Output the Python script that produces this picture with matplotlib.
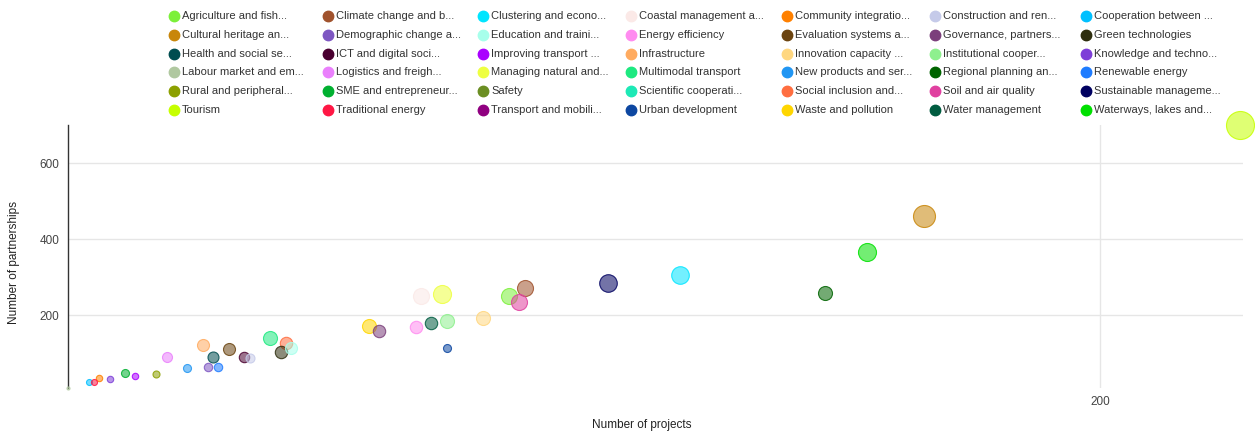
import matplotlib
matplotlib.use("Agg")
import matplotlib.pyplot as plt
import matplotlib.colors as mcolors
from matplotlib.lines import Line2D

plt.rcParams['font.family'] = ['Liberation Sans', 'DejaVu Sans']

# legend categories (row-major, 7 per row) and their colours
categories = [
    "Agriculture and fish...", "Climate change and b...", "Clustering and econo...",
    "Coastal management a...", "Community integratio...", "Construction and ren...",
    "Cooperation between ...",
    "Cultural heritage an...", "Demographic change a...", "Education and traini...",
    "Energy efficiency", "Evaluation systems a...", "Governance, partners...",
    "Green technologies",
    "Health and social se...", "ICT and digital soci...", "Improving transport ...",
    "Infrastructure", "Innovation capacity ...", "Institutional cooper...",
    "Knowledge and techno...",
    "Labour market and em...", "Logistics and freigh...", "Managing natural and...",
    "Multimodal transport", "New products and ser...", "Regional planning an...",
    "Renewable energy",
    "Rural and peripheral...", "SME and entrepreneur...", "Safety",
    "Scientific cooperati...", "Social inclusion and...", "Soil and air quality",
    "Sustainable manageme...",
    "Tourism", "Traditional energy", "Transport and mobili...",
    "Urban development", "Waste and pollution", "Water management",
    "Waterways, lakes and...",
]
colors = [
    "#7cf03a", "#a0522d", "#00e5ff", "#fbe9e7", "#ff8000", "#c5cae9", "#00c0ff",
    "#c8860a", "#7e57c2", "#a7ffeb", "#ff8cf0", "#6b4410", "#7b3f7b", "#2e2e0e",
    "#004d50", "#4a0030", "#aa00ff", "#ffab60", "#ffd780", "#8ef08e", "#7e3fd8",
    "#b0c8a0", "#ea80fc", "#eeff41", "#1de980", "#2196f3", "#006400", "#1e7cff",
    "#8ca000", "#00b030", "#6b8e23", "#1de9b6", "#ff6e40", "#e040a0", "#000060",
    "#c6ff00", "#ff1744", "#900080", "#0d47a1", "#ffd600", "#005c40", "#00e000",
]

# bubbles
point_names = [
    "Labour market and em...", "Cooperation between ...", "Traditional energy",
    "Community integratio...", "Knowledge and techno...", "SME and entrepreneur...",
    "Improving transport ...", "Rural and peripheral...", "Logistics and freigh...",
    "New products and ser...", "Infrastructure", "Demographic change a...",
    "Health and social se...", "Renewable energy", "Evaluation systems a...",
    "ICT and digital soci...", "Construction and ren...", "Multimodal transport",
    "Social inclusion and...", "Green technologies", "Education and traini...",
    "Waste and pollution", "Governance, partners...", "Energy efficiency",
    "Coastal management a...", "Water management", "Managing natural and...",
    "Institutional cooper...", "Urban development", "Innovation capacity ...",
    "Agriculture and fish...", "Climate change and b...", "Soil and air quality",
    "Sustainable manageme...", "Clustering and econo...", "Regional planning an...",
    "Waterways, lakes and...", "Cultural heritage an...", "Tourism",
]
projects = [1, 5, 6, 7, 9, 12, 14, 18, 20, 24, 27, 28, 29, 30, 32, 35, 36, 40, 43,
            42, 44, 59, 61, 68, 69, 71, 73, 74, 74, 81, 86, 89, 88, 105, 119, 147,
            155, 166, 227]
partnerships = [9, 25, 25, 35, 33, 48, 40, 46, 90, 61, 121, 64, 90, 64, 111, 90, 88,
                140, 127, 103, 114, 171, 158, 169, 252, 179, 257, 184, 114, 192, 250,
                271, 234, 286, 307, 258, 367, 461, 700]
bubble = [15, 30, 30, 32, 32, 40, 32, 35, 50, 40, 60, 42, 55, 42, 60, 52, 45, 70,
          62, 62, 60, 70, 62, 62, 80, 62, 90, 70, 40, 70, 80, 80, 80, 88, 88, 70,
          90, 110, 140]

W, H = 1255, 432
fig = plt.figure(figsize=(W / 100, H / 100), dpi=100)
ax = fig.add_axes([68 / W, 44 / H, 1175 / W, 263 / H])

# larger bubbles drawn first
order = sorted(range(len(point_names)), key=lambda i: -bubble[i])
for i in order:
    c = colors[categories.index(point_names[i])]
    r = bubble[i] / 10
    ax.scatter(projects[i], partnerships[i], s=(1.44 * r) ** 2,
               facecolor=mcolors.to_rgba(c, 0.55),
               edgecolor=mcolors.to_rgba(c, 0.85),
               linewidth=0.8, clip_on=False, zorder=3)

ax.set_xlim(1, 227.5)
ax.set_ylim(9, 700)
ax.set_xticks([200])
ax.set_yticks([200, 400, 600])
ax.grid(True, color="#e6e6e6", linewidth=1)
ax.set_axisbelow(True)
for s in ["top", "right", "bottom"]:
    ax.spines[s].set_visible(False)
ax.spines["left"].set_color("#333333")
ax.spines["left"].set_linewidth(1)
ax.tick_params(length=0, labelsize=8.5, colors="#444444", pad=6)

fig.text(14 / W, 1 - 262 / H, "Number of partnerships", rotation=90,
         ha="center", va="center", fontsize=8.5, color="#222222")
fig.text(642 / W, 1 - 425 / H, "Number of projects",
         ha="center", va="center", fontsize=8.5, color="#222222")

# legend grid
col_x = [174, 328, 483, 631, 787, 935, 1086]
for i, (name, c) in enumerate(zip(categories, colors)):
    xm = col_x[i % 7]
    ym = 16 + (i // 7) * 18.8
    fig.add_artist(Line2D([xm / W], [1 - ym / H], marker="o", markersize=7.5,
                          linestyle="none", color=c, transform=fig.transFigure))
    fig.text((xm + 8) / W, 1 - ym / H, name, ha="left", va="center",
             fontsize=8, color="#333333")

fig.savefig("out.png", dpi=100)
